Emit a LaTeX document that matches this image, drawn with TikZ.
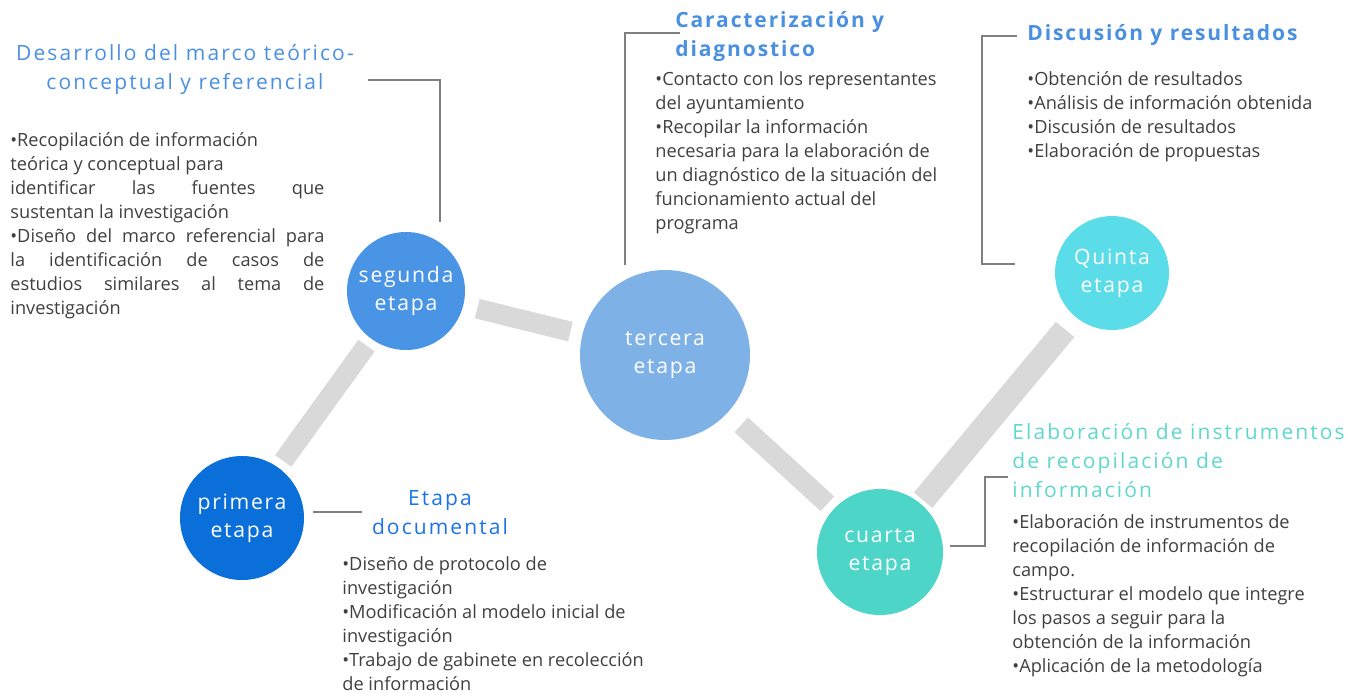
\documentclass[tikz,border=0pt]{standalone}
\usepackage{fontspec}
\setmainfont{Open Sans}
\newfontfamily\headfont[LetterSpace=10]{Open Sans}
\newfontfamily\headbfont[LetterSpace=9]{Open Sans}
\newfontfamily\stagefamily[LetterSpace=8]{Open Sans}
\definecolor{cA}{HTML}{0B6FD9}
\definecolor{cB}{HTML}{4A94E6}
\definecolor{cC}{HTML}{7EB1E6}
\definecolor{cD}{HTML}{4DD6C8}
\definecolor{cE}{HTML}{5BDCE9}
\definecolor{barc}{HTML}{D9D9D9}
\definecolor{callc}{HTML}{7F7F7F}
\definecolor{bodyc}{HTML}{404040}
\definecolor{hblue}{HTML}{4A90E2}
\definecolor{hblueB}{HTML}{1A73E8}
\definecolor{hteal}{HTML}{5ED8CC}
\begin{document}
\begin{tikzpicture}[x=0.5pt,y=-0.5pt,
  stage/.style={circle, minimum size=#1, inner sep=0pt, text=white,
    font=\stagefamily\fontsize{10.6}{14}\selectfont, align=center},
  bar/.style={line width=10pt, draw=barc},
  call/.style={draw=callc, line width=0.8pt},
  body/.style={font=\fontsize{9.1}{12}\selectfont, text=bodyc, anchor=north west, inner sep=0pt, align=left},
  head/.style={font=\headfont\fontsize{10.5}{14.5}\selectfont, inner sep=0pt},
  headb/.style={font=\headbfont\bfseries\fontsize{10.5}{14.5}\selectfont, inner sep=0pt, text=hblue, anchor=west, align=left},
]
\useasboundingbox (0,0) rectangle (1359,692);

% stages
\node[stage=62pt, fill=cA] (p1) at (242,518) {primera\\etapa};
\node[stage=59pt, fill=cB] (p2) at (406,291) {segunda\\etapa};
\node[stage=85pt, fill=cC] (p3) at (665,355) {tercera\\etapa};
\node[stage=63pt, fill=cD] (p4) at (880,552) {cuarta\\etapa};
\node[stage=57pt, fill=cE] (p5) at (1112,273) {Quinta\\etapa};

% bars
\draw[bar, shorten <=4pt, shorten >=4pt] (p1) -- (p2);
\draw[bar, shorten <=7pt, shorten >=6pt] (p2) -- (p3);
\draw[bar, shorten <=9pt, shorten >=4pt] (p3) -- (p4);
\draw[bar, line width=12pt, shorten <=2pt, shorten >=8pt] (p4) -- (p5);

% headings
\node[head, text=hblue, align=center] (h2) at (185,69) {Desarrollo del marco teórico-\\conceptual y referencial};
\node[headb] (h3) at (675,36) {Caracterización y\\diagnostico};
\node[headb] (h5) at (1027,35) {Discusión y resultados};
\node[head, text=hblueB, align=center] (h1) at (440,513) {Etapa\\documental};
\node[head, text=hteal, anchor=west, align=left] (h4) at (1012,461) {Elaboración de instrumentos\\de recopilación de\\información};

% bodies
\node[body, text width=157pt, align=justify] (b2) at (10,132) {%
•Recopilación de información\newline teórica y conceptual para\newline
identificar las fuentes que\linebreak sustentan la investigación\newline
•Diseño del marco referencial para\linebreak la identificación de casos de\linebreak
estudios similares al tema de\linebreak investigación};
\node[body] (b3) at (655,71) {•Contacto con los representantes\\del ayuntamiento\\•Recopilar la información\\necesaria para la elaboración de\\un diagnóstico de la situación del\\funcionamiento actual del\\programa};
\node[body] (b5) at (1027,71) {•Obtención de resultados\\•Análisis de información obtenida\\•Discusión de resultados\\•Elaboración de propuestas};
\node[body] (b1) at (342,556) {•Diseño de protocolo de\\investigación\\•Modificación al modelo inicial de\\investigación\\•Trabajo de gabinete en recolección\\de información};
\node[body] (b4) at (1012,514) {•Elaboración de instrumentos de\\recopilación de información de\\campo.\\•Estructurar el modelo que integre\\los pasos a seguir para la\\obtención de la información\\•Aplicación de la metodología};

% callout lines
\coordinate (s2a) at (368,80);
\coordinate (s2b) at (440,222);
\draw[call] (s2a) -| (s2b);
\coordinate (s3a) at (680,33);
\coordinate (s3b) at (625,265);
\draw[call] (s3a) -| (s3b);
\coordinate (s5a) at (1017,36);
\coordinate (s5b) at (982,264);
\coordinate (s5c) at (1015,264);
\draw[call] (s5a) -| (s5b) -- (s5c);
\coordinate (s1a) at (313,512);
\coordinate (s1b) at (362,512);
\draw[call] (s1a) -- (s1b);
\coordinate (s4a) at (950,546);
\coordinate (s4b) at (985,477);
\coordinate (s4c) at (1008,477);
\draw[call] (s4a) -| (s4b) -- (s4c);
\end{tikzpicture}
\end{document}
